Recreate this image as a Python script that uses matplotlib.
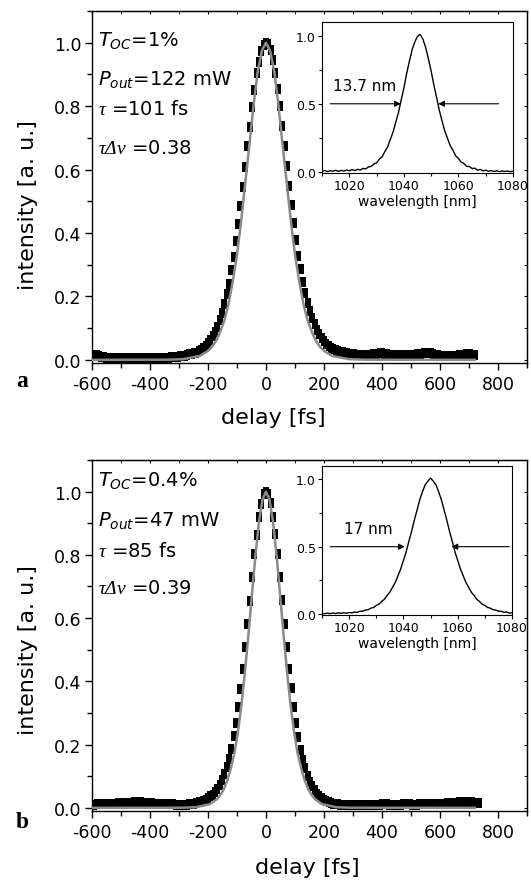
import numpy as np
import matplotlib
matplotlib.use('Agg')
import matplotlib.pyplot as plt
from matplotlib.ticker import MultipleLocator

plt.rcParams['font.family'] = 'DejaVu Sans'
plt.rcParams['mathtext.fontset'] = 'custom'
plt.rcParams['mathtext.rm'] = 'DejaVu Sans'
plt.rcParams['mathtext.it'] = 'DejaVu Sans:italic'
plt.rcParams['mathtext.sf'] = 'Liberation Serif:italic'
plt.rcParams['axes.unicode_minus'] = False

# Autocorrelation traces, 8 fs scan step
delay_a = np.arange(-600, 721, 8)
signal_a = [
    0.016, 0.015, 0.014, 0.012, 0.010, 0.008, 0.007, 0.006, 0.006, 0.005,
    0.006, 0.005, 0.005, 0.006, 0.005, 0.004, 0.005, 0.004, 0.005, 0.004,
    0.005, 0.005, 0.004, 0.005, 0.006, 0.005, 0.006, 0.006, 0.005, 0.006,
    0.007, 0.006, 0.007, 0.007, 0.008, 0.008, 0.009, 0.010, 0.011, 0.012,
    0.013, 0.015, 0.017, 0.019,
    0.020, 0.023, 0.027, 0.031, 0.036, 0.043, 0.052, 0.062, 0.074, 0.088,
    0.105, 0.125, 0.149, 0.175, 0.207, 0.240, 0.282, 0.325, 0.375, 0.428,
    0.486, 0.546, 0.609, 0.673, 0.735, 0.797, 0.851, 0.903, 0.940, 0.974,
    0.994, 1.000, 0.996, 0.978, 0.944, 0.906, 0.853, 0.799, 0.737, 0.675,
    0.611, 0.548, 0.489, 0.430, 0.377, 0.328, 0.285, 0.245, 0.211, 0.180,
    0.155, 0.132, 0.112, 0.095, 0.081, 0.069, 0.059, 0.050, 0.043, 0.038,
    0.034, 0.030, 0.027,
    0.025, 0.024, 0.022, 0.021, 0.019, 0.018, 0.017, 0.016, 0.016, 0.015,
    0.015, 0.014, 0.015, 0.016, 0.017, 0.018, 0.019, 0.020, 0.020, 0.019,
    0.018, 0.016, 0.015, 0.014, 0.014, 0.013, 0.014, 0.015, 0.014, 0.013,
    0.014, 0.015, 0.016, 0.017, 0.018, 0.019, 0.020, 0.021, 0.021, 0.020,
    0.018, 0.016, 0.014, 0.013, 0.012, 0.012, 0.011, 0.011, 0.012, 0.013,
    0.013, 0.014, 0.015, 0.016, 0.017, 0.018, 0.017, 0.016, 0.016]

delay_b = np.arange(-600, 737, 8)
signal_b = [
    0.010, 0.010, 0.011, 0.011, 0.012, 0.012, 0.012, 0.013, 0.013, 0.013,
    0.013, 0.014, 0.014, 0.014, 0.015, 0.015, 0.016, 0.016, 0.017, 0.017,
    0.017, 0.017, 0.016, 0.016, 0.015, 0.014, 0.014, 0.013, 0.013, 0.012,
    0.012, 0.012, 0.011, 0.011, 0.011, 0.011, 0.010, 0.010, 0.010, 0.010,
    0.010, 0.010, 0.011, 0.012, 0.013, 0.015, 0.017,
    0.019, 0.022, 0.026, 0.031, 0.036, 0.042, 0.050, 0.060, 0.072, 0.088,
    0.106, 0.128, 0.155, 0.186, 0.226, 0.268, 0.318, 0.376, 0.438, 0.508,
    0.580, 0.655, 0.729, 0.803, 0.864, 0.920, 0.962, 0.991, 1.000, 0.992,
    0.963, 0.921, 0.866, 0.804, 0.730, 0.656, 0.582, 0.509, 0.440, 0.378,
    0.320, 0.268, 0.224, 0.184, 0.152, 0.125, 0.102, 0.083, 0.068, 0.055,
    0.045, 0.037, 0.031, 0.026, 0.021, 0.017, 0.015,
    0.013, 0.012, 0.011, 0.010, 0.009, 0.009, 0.008, 0.008, 0.008, 0.008,
    0.008, 0.008, 0.009, 0.009, 0.009, 0.009, 0.009, 0.010, 0.010, 0.010,
    0.010, 0.011, 0.011, 0.011, 0.010, 0.010, 0.010, 0.010, 0.010, 0.010,
    0.011, 0.011, 0.011, 0.011, 0.010, 0.010, 0.010, 0.011, 0.011, 0.012,
    0.012, 0.012, 0.012, 0.013, 0.013, 0.013, 0.013, 0.013, 0.013, 0.014,
    0.014, 0.015, 0.015, 0.016, 0.017, 0.018, 0.019, 0.020, 0.020, 0.019,
    0.017, 0.016, 0.015, 0.015]

# sech^2 fits (grey lines)
fit_delay_a = [-600, -344, -287, -229, -201, -186, -172, -158, -143, -129,
               -115, -100, -86, -72, -57, -43, -29, -14, 0, 14, 29, 43, 57,
               72, 86, 100, 115, 129, 143, 158, 172, 186, 201, 229, 287, 344, 720]
fit_delay_b = [-600, -289, -241, -193, -169, -157, -145, -133, -121, -108,
               -96, -84, -72, -60, -48, -36, -24, -12, 0, 12, 24, 36, 48,
               60, 72, 84, 96, 108, 121, 133, 145, 157, 169, 193, 241, 289, 720]
fit_shape = [0.0, 0.0004, 0.002, 0.012, 0.0275, 0.041, 0.060, 0.088, 0.126,
             0.177, 0.245, 0.331, 0.435, 0.554, 0.680, 0.802, 0.906, 0.975,
             1.0, 0.975, 0.906, 0.802, 0.680, 0.554, 0.435, 0.331, 0.245,
             0.177, 0.126, 0.088, 0.060, 0.041, 0.0275, 0.012, 0.002, 0.0004, 0.0]

# Spectra, 1 nm step
wavelength = np.arange(1010, 1081, 1)
spec_a = [
    0.004, 0.010, 0.002, 0.009, 0.005, 0.012, 0.004, 0.011, 0.006, 0.014,
    0.008, 0.016, 0.010, 0.019, 0.014, 0.026, 0.022, 0.036, 0.040, 0.058,
    0.066, 0.094, 0.110, 0.148, 0.182, 0.236, 0.290, 0.362, 0.433, 0.526,
    0.615, 0.720, 0.810, 0.895, 0.953, 0.995, 1.008, 0.973, 0.912, 0.829,
    0.740, 0.638, 0.547, 0.451, 0.374, 0.300, 0.246, 0.192, 0.158, 0.118,
    0.099, 0.072, 0.062, 0.041, 0.040, 0.025, 0.027, 0.013, 0.018, 0.008,
    0.013, 0.004, 0.010, 0.003, 0.008, 0.002, 0.007, 0.003, 0.006, 0.002,
    0.005]
spec_b = [
    0.004, 0.001, 0.006, 0.002, 0.007, 0.003, 0.008, 0.004, 0.009, 0.005,
    0.010, 0.008, 0.014, 0.012, 0.020, 0.020, 0.029, 0.031, 0.043, 0.048,
    0.063, 0.073, 0.093, 0.109, 0.138, 0.162, 0.199, 0.235, 0.285, 0.334,
    0.398, 0.461, 0.539, 0.613, 0.696, 0.771, 0.848, 0.907, 0.960, 0.987,
    1.010, 0.987, 0.960, 0.907, 0.848, 0.771, 0.696, 0.613, 0.539, 0.461,
    0.398, 0.334, 0.285, 0.235, 0.199, 0.162, 0.138, 0.109, 0.093, 0.073,
    0.063, 0.048, 0.043, 0.031, 0.029, 0.020, 0.020, 0.012, 0.014, 0.006,
    0.008]

labels_a = [r'$T_{OC}$=1%', r'$P_{out}$=122 mW', r'$\mathsf{\tau}$ =101 fs',
            r'$\mathsf{\tau\Delta\nu}$ =0.38']
labels_b = [r'$T_{OC}$=0.4%', r'$P_{out}$=47 mW', r'$\mathsf{\tau}$ =85 fs',
            r'$\mathsf{\tau\Delta\nu}$ =0.39']

rect = [(-0.32, -0.5), (0.32, -0.5), (0.32, 0.5), (-0.32, 0.5), (-0.32, -0.5)]
W, H = 531, 887

fig = plt.figure(figsize=(W / 100, H / 100), dpi=100)


def px_box(x0, y0, x1, y1):
    return [x0 / W, 1 - y1 / H, (x1 - x0) / W, (y1 - y0) / H]


def draw_panel(box, inbox, delay, signal, fit_delay, spec, half, fwhm_text,
               labels, label_y, letter, letter_y, xlab_x, xlab_y, ylab_y):
    ax = fig.add_axes(px_box(*box))
    ax.plot(delay, signal, ls='none', marker=rect, ms=7.5, color='k', mew=0)
    ax.plot(fit_delay, fit_shape, color='#8a8a8a', lw=1.8, zorder=3)
    ax.set_xlim(-600, 900)
    ax.set_ylim(-0.01, 1.1)
    ax.xaxis.set_major_locator(MultipleLocator(200))
    ax.xaxis.set_minor_locator(MultipleLocator(100))
    ax.yaxis.set_major_locator(MultipleLocator(0.2))
    ax.yaxis.set_minor_locator(MultipleLocator(0.1))
    ax.tick_params(which='major', direction='out', length=5, width=1,
                   labelsize=12.5, pad=2.5)
    ax.tick_params(which='minor', direction='out', length=3.5, width=1)
    ax.tick_params(axis='x', pad=4)
    for s in ax.spines.values():
        s.set_linewidth(1.0)
    top = ax.secondary_xaxis('top')
    top.xaxis.set_major_locator(MultipleLocator(200))
    top.xaxis.set_minor_locator(MultipleLocator(100))
    top.tick_params(which='both', direction='in', length=2.5, labeltop=False)
    right = ax.secondary_yaxis('right')
    right.yaxis.set_major_locator(MultipleLocator(0.2))
    right.yaxis.set_minor_locator(MultipleLocator(0.1))
    right.tick_params(which='both', direction='in', length=2.5, labelright=False)

    ax.set_xlabel('delay [fs]', fontsize=16)
    ax.xaxis.set_label_coords(xlab_x, xlab_y)
    ax.set_ylabel('intensity [a. u.]', fontsize=16)
    ax.yaxis.set_label_coords(-0.125, ylab_y)

    for txt, yy in zip(labels, label_y):
        ax.text(0.014, yy, txt, transform=ax.transAxes, fontsize=14,
                va='baseline', ha='left')
    fig.text(22 / W, 1 - letter_y / H, letter, fontsize=17, fontweight='bold',
             family='Liberation Serif', ha='center', va='baseline')

    ins = fig.add_axes(px_box(*inbox))
    ins.plot(wavelength, spec, color='k', lw=1.0)
    ins.set_xlim(1010, 1080)
    ins.set_ylim(-0.008, 1.1)
    ins.xaxis.set_major_locator(MultipleLocator(20))
    ins.xaxis.set_minor_locator(MultipleLocator(10))
    ins.yaxis.set_major_locator(MultipleLocator(0.5))
    ins.yaxis.set_minor_locator(MultipleLocator(0.25))
    ins.tick_params(which='major', direction='out', length=3, width=0.8,
                    labelsize=9, pad=1.5)
    ins.tick_params(which='minor', direction='out', length=2, width=0.8)
    for s in ins.spines.values():
        s.set_linewidth(0.8)
    ins.set_xlabel('wavelength [nm]', fontsize=10, labelpad=1)
    arrow = dict(arrowstyle='-|>', color='k', lw=0.8, mutation_scale=9,
                 shrinkA=0, shrinkB=0)
    ins.annotate('', xy=(half[0], 0.5), xytext=(1013, 0.5), arrowprops=arrow)
    ins.annotate('', xy=(half[1], 0.5), xytext=(half[2], 0.5), arrowprops=arrow)
    ins.text(half[3], 0.6, fwhm_text, fontsize=11, ha='left', va='baseline')
    return ax


draw_panel((92, 12, 527, 364), (322, 23, 513, 174), delay_a, signal_a,
           fit_delay_a, spec_a, (1038.9, 1052.6, 1074.7, 1014), '13.7 nm',
           labels_a, [0.901, 0.790, 0.707, 0.597], 'a', 386.7,
           0.416, -0.126, 0.452)
draw_panel((92, 461, 527, 812), (322, 467, 512, 616), delay_b, signal_b,
           fit_delay_b, spec_b, (1040.5, 1057.7, 1079, 1018), '17 nm',
           labels_b, [0.927, 0.813, 0.727, 0.621], 'b', 828.3,
           0.494, -0.131, 0.46)

fig.savefig('out.png', dpi=100)
